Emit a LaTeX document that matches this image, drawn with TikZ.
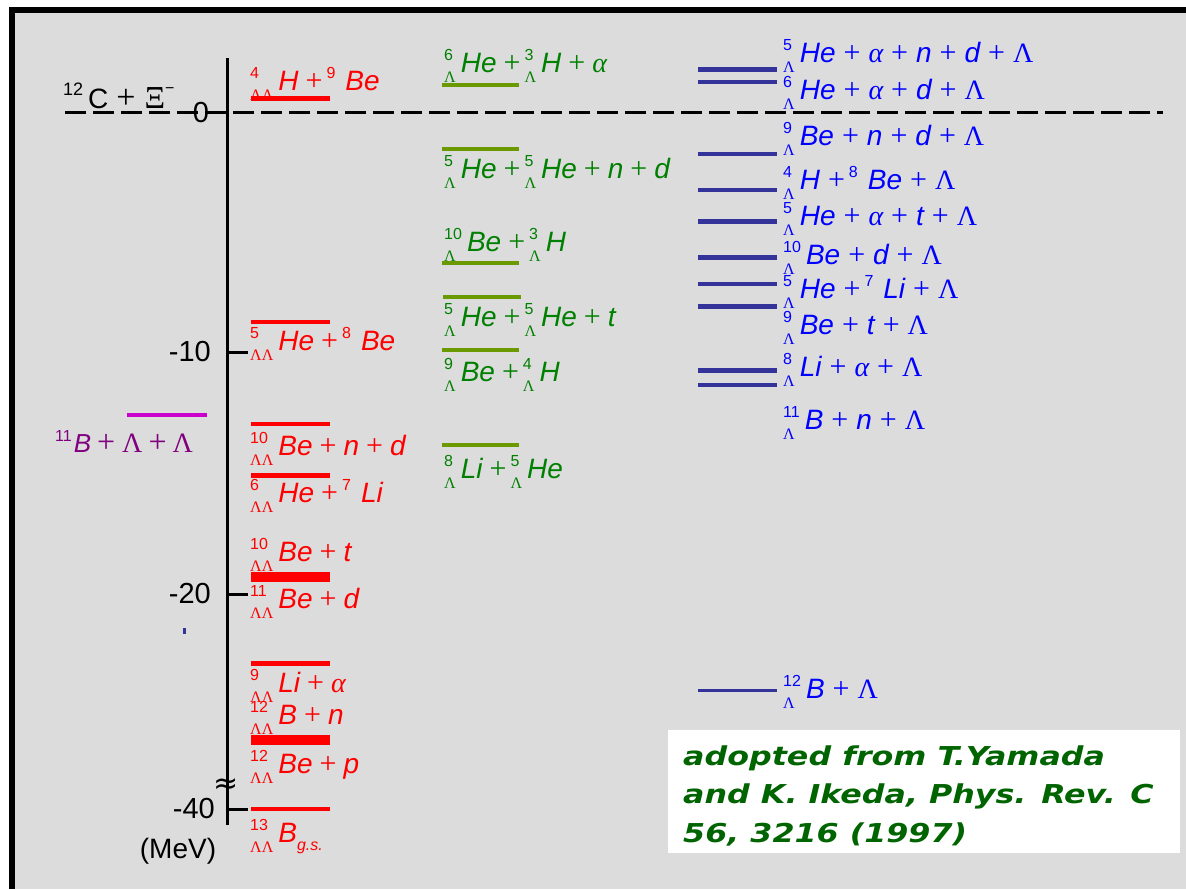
\documentclass[tikz,border=0pt]{standalone}
\usepackage{fontspec}
\setmainfont{Liberation Sans}
\newfontfamily\serif{Liberation Serif}
\newfontfamily\dejavu{DejaVu Sans}
\newlength\prew
\newlength\plsp
\setlength\plsp{7pt}
\newcommand\supf{\fontsize{16}{16}\selectfont\upshape}
\newcommand\subf{\fontsize{16}{16}\selectfont\serif\upshape}
\newcommand\pre[2]{\sbox0{\supf #1}\sbox2{\subf #2}\setlength\prew{\wd0}\ifdim\wd2>\prew\setlength\prew{\wd2}\fi\makebox[\prew][l]{\rlap{\raisebox{12pt}{\usebox0}}\raisebox{-10pt}{\usebox2}}\hspace{5pt}}
\newcommand\sps[1]{\raisebox{12pt}{\supf #1}\hspace{10pt}}
\newcommand\plus{{\serif\upshape\fontsize{30}{30}\selectfont +}}
\newcommand\pl{\hspace{\plsp}\plus\hspace{\plsp}}
\newcommand\plt{\hspace{\plsp}\plus\hspace{4pt}}
\newcommand\Lam{{\serif\upshape Λ}}
\newcommand\alp{{\serif\itshape α}}
\definecolor{bg}{RGB}{220,220,220}
\definecolor{rd}{RGB}{255,0,0}
\definecolor{mg}{RGB}{204,0,204}
\definecolor{pu}{RGB}{128,0,128}
\definecolor{olivebar}{RGB}{107,153,0}
\definecolor{gtext}{RGB}{0,128,0}
\definecolor{navybar}{RGB}{51,51,153}
\definecolor{btext}{RGB}{0,0,255}
\definecolor{reftext}{RGB}{0,100,0}
\tikzset{
  lbl/.style={anchor=base west, inner sep=0pt, font=\fontsize{28}{30}\selectfont\itshape\setlength\plsp{7pt}},
  rlbl/.style={lbl, text=rd},
  glbl/.style={lbl, text=gtext},
  blbl/.style={lbl, text=btext, font=\fontsize{28}{30}\selectfont\itshape\setlength\plsp{8pt}},
  tick/.style={inner sep=0pt, font=\fontsize{29}{30}\selectfont},
  rbar/.style={draw=rd, line width=#1},
  gbar/.style={draw=olivebar, line width=#1},
  bbar/.style={draw=navybar, line width=#1},
  reftxt/.style={anchor=base west, inner sep=0pt, text=reftext, font=\dejavu\fontsize{26}{30}\selectfont\bfseries\itshape},
}
\begin{document}
\begin{tikzpicture}[x=1pt,y=-1pt]
\useasboundingbox (0,0) rectangle (1186,889);
\fill[white] (0,0) rectangle (1186,889);
\fill[bg] (9,7) rectangle (1186,889);
\draw[line width=6] (12,889) -- (12,10) -- (1186,10);

% axis
\coordinate (atop) at (227,58);
\coordinate (abot) at (227,825);
\draw[line width=3] (atop) -- (abot);
\coordinate (t0a) at (208,112); \coordinate (t0b) at (227,112);
\draw[line width=3] (t0a) -- (t0b);
\coordinate (t10a) at (227,352); \coordinate (t10b) at (248,352);
\draw[line width=3] (t10a) -- (t10b);
\coordinate (t20a) at (227,594); \coordinate (t20b) at (248,594);
\draw[line width=3] (t20a) -- (t20b);
\coordinate (t40a) at (227,809); \coordinate (t40b) at (248,809);
\draw[line width=3] (t40a) -- (t40b);
\node (brk) [inner sep=0pt, font=\dejavu\fontsize{30}{30}\selectfont] at (226,786) {≈};
% zero line
\coordinate (zl) at (65,112); \coordinate (zr) at (1163,112);
\draw[line width=3, dash pattern=on 21pt off 7pt] (zl) -- (zr);

\node (l0) [tick] at (201,113) {0};
\node (l10) [tick, anchor=east] at (211,352) {-10};
\node (l20) [tick, anchor=east] at (211,594) {-20};
\node (l40) [tick, anchor=east] at (215,809) {-40};
\node (mev) [tick, font=\fontsize{28}{30}\selectfont] at (178,851) {(MeV)};

\node (c12) [anchor=base west, inner sep=0pt, font=\fontsize{28}{30}\selectfont] at (63,108)
  {\raisebox{13pt}{\fontsize{18}{18}\selectfont 12}\hspace{5pt}C\hspace{8pt}{\serif\fontsize{34}{34}\selectfont +}\hspace{9pt}{\serif\fontsize{32}{32}\selectfont Ξ}\raisebox{15pt}{\supf −}};

% magenta
\draw[draw=mg, line width=4] (127,415) -- (207,415);
\node (b11) [lbl, text=pu, font=\fontsize{26}{30}\selectfont\itshape] at (55,452)
  {\raisebox{11pt}{\supf 11}\hspace{2pt}B\hspace{6pt}{\serif\upshape\fontsize{32}{32}\selectfont +}\hspace{7pt}{\serif\upshape\fontsize{28}{28}\selectfont Λ}\hspace{6pt}{\serif\upshape\fontsize{32}{32}\selectfont +}\hspace{6pt}{\serif\upshape\fontsize{28}{28}\selectfont Λ}};
\fill[navybar] (183,628) rectangle (186,634);

% red column
\draw[rbar=5] (251,98) -- (330,98);
\draw[rbar=4] (251,322) -- (330,322);
\draw[rbar=4] (251,424) -- (330,424);
\draw[rbar=5] (251,475) -- (330,475);
\draw[rbar=10] (251,577) -- (330,577);
\draw[rbar=5] (251,663) -- (330,663);
\draw[rbar=10] (251,740) -- (330,740);
\draw[rbar=4] (251,809) -- (330,809);
\node (r1) [rlbl] at (250,90) {\pre{4}{ΛΛ}H\plt\sps{9}Be};
\node (r2) [rlbl] at (250,350) {\pre{5}{ΛΛ}He\plt\sps{8}Be};
\node (r3) [rlbl] at (250,455) {\pre{10}{ΛΛ}Be\pl n\pl d};
\node (r4) [rlbl] at (250,502) {\pre{6}{ΛΛ}He\plt\sps{7}Li};
\node (r5) [rlbl] at (250,561) {\pre{10}{ΛΛ}Be\pl t};
\node (r6) [rlbl] at (250,608) {\pre{11}{ΛΛ}Be\pl d};
\node (r7) [rlbl] at (250,692) {\pre{9}{ΛΛ}Li\pl\alp};
\node (r8) [rlbl] at (250,724) {\pre{12}{ΛΛ}B\pl n};
\node (r9) [rlbl] at (250,773) {\pre{12}{ΛΛ}Be\pl p};
\node (r10) [rlbl] at (250,842) {\pre{13}{ΛΛ}B\raisebox{-8pt}{\fontsize{16}{16}\selectfont\itshape g.s.}};

% green column
\draw[gbar=4] (442,85) -- (519,85);
\draw[gbar=4] (442,149) -- (519,149);
\draw[gbar=4] (442,263) -- (519,263);
\draw[gbar=4] (443,297) -- (521,297);
\draw[gbar=4] (442,350) -- (519,350);
\draw[gbar=4] (442,445) -- (519,445);
\node (g1) [glbl] at (444,72) {\pre{6}{Λ}He\plt\pre{3}{Λ}H\pl\alp};
\node (g2) [glbl] at (444,178) {\pre{5}{Λ}He\plt\pre{5}{Λ}He\pl n\pl d};
\node (g3) [glbl] at (444,251) {\pre{10}{Λ}Be\plt\pre{3}{Λ}H};
\node (g4) [glbl] at (444,326) {\pre{5}{Λ}He\plt\pre{5}{Λ}He\pl t};
\node (g5) [glbl] at (444,381) {\pre{9}{Λ}Be\plt\pre{4}{Λ}H};
\node (g6) [glbl] at (444,478) {\pre{8}{Λ}Li\plt\pre{5}{Λ}He};

% blue column
\draw[bbar=5] (698,69) -- (777,69);
\draw[bbar=4] (698,82) -- (777,82);
\draw[bbar=4] (698,154) -- (777,154);
\draw[bbar=4] (698,190) -- (777,190);
\draw[bbar=5] (698,221) -- (777,221);
\draw[bbar=5] (698,257) -- (777,257);
\draw[bbar=4] (698,284) -- (777,284);
\draw[bbar=5] (698,306) -- (777,306);
\draw[bbar=5] (698,370) -- (777,370);
\draw[bbar=4] (698,385) -- (777,385);
\draw[bbar=3] (698,690) -- (777,690);
\node (bl1) [blbl] at (783,62) {\pre{5}{Λ}He\pl\alp\pl n\pl d\pl\Lam};
\node (bl2) [blbl] at (783,99) {\pre{6}{Λ}He\pl\alp\pl d\pl\Lam};
\node (bl3) [blbl] at (783,145) {\pre{9}{Λ}Be\pl n\pl d\pl\Lam};
\node (bl4) [blbl] at (783,189) {\pre{4}{Λ}H\plt\sps{8}Be\pl\Lam};
\node (bl5) [blbl] at (783,225) {\pre{5}{Λ}He\pl\alp\pl t\pl\Lam};
\node (bl6) [blbl] at (783,264) {\pre{10}{Λ}Be\pl d\pl\Lam};
\node (bl7) [blbl] at (783,298) {\pre{5}{Λ}He\plt\sps{7}Li\pl\Lam};
\node (bl8) [blbl] at (783,334) {\pre{9}{Λ}Be\pl t\pl\Lam};
\node (bl9) [blbl] at (783,376) {\pre{8}{Λ}Li\pl\alp\pl\Lam};
\node (bl10) [blbl] at (783,429) {\pre{11}{Λ}B\pl n\pl\Lam};
\node (bl11) [blbl] at (783,698) {\pre{12}{Λ}B\pl\Lam};

% reference box
\node (refbox) [fill=white, anchor=north west, inner sep=0pt, minimum width=512pt, minimum height=123pt] at (668,730) {};
\node (ref1) [reftxt] at (683,765) {\scalebox{1.22}[1]{adopted from T.Yamada}};
\node (ref2) [reftxt] at (683,803) {\scalebox{1.22}[1]{and K. Ikeda, Phys. Rev. C}};
\node (ref3) [reftxt] at (683,842) {\scalebox{1.22}[1]{56, 3216 (1997)}};
\end{tikzpicture}
\end{document}
